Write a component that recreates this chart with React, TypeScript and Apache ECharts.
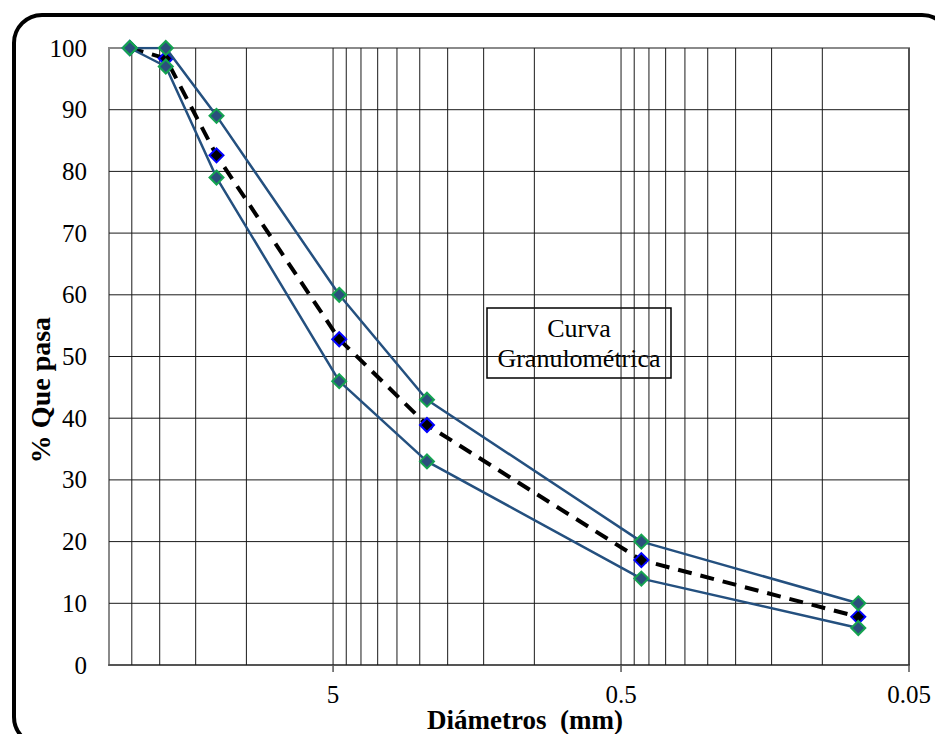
import React, { useEffect, useRef } from 'react';
import * as echarts from 'echarts';

// Sieve openings (mm) and percentages passing
const diameters = [25.4, 19.05, 12.7, 4.76, 2.36, 0.425, 0.075];
const upperLimit = [100, 100, 89, 60, 43, 20, 10];
const lowerLimit = [100, 97, 79, 46, 33, 14, 6];
const sampleCurve = [100, 98.3, 82.6, 52.8, 38.9, 17, 7.8];

// Axis definition
const axisMin = 0.05;
const axisMax = 30;
const majorTicks = [0.05, 0.5, 5];
const minorGrid = [
  0.1, 0.15, 0.2, 0.25, 0.3, 0.35, 0.4, 0.45,
  1, 1.5, 2, 2.5, 3, 3.5, 4, 4.5,
  10, 15, 20, 25,
];
const yTicks = [0, 10, 20, 30, 40, 50, 60, 70, 80, 90, 100];

const FONT = 'Liberation Serif';

const tx = (d: number) => Math.log10(d / axisMin);

export default function App() {
  const ref = useRef<HTMLDivElement>(null);

  useEffect(() => {
    document.body.style.margin = '0';
    if (!ref.current) return;
    const chart = echarts.init(ref.current, null, { renderer: 'svg' });

    const toPairs = (vals: number[]) => diameters.map((d, i) => [tx(d), vals[i]]);

    const gridXs = minorGrid.concat(majorTicks).map((d) => [tx(d)]);
    const gridYs = yTicks.filter((v) => v > 0 && v < 100).map((v) => [v]);

    const option: any = {
      animation: false,
      grid: {
        left: 109,
        top: 48,
        right: 26,
        bottom: 69,
        show: true,
        borderColor: '#8a8a8a',
        borderWidth: 2,
        backgroundColor: 'transparent',
      },
      xAxis: {
        type: 'value',
        min: 0,
        max: tx(axisMax),
        interval: 1,
        inverse: true,
        axisLine: { show: true, lineStyle: { color: '#555', width: 2 } },
        axisTick: { show: false },
        splitLine: { show: false },
        axisLabel: {
          margin: 17,
          fontFamily: FONT,
          fontSize: 25,
          color: '#000',
          formatter: (v: number) => {
            const m = majorTicks.find((t) => Math.abs(tx(t) - v) < 1e-6);
            return m !== undefined ? String(m) : '';
          },
        },
      },
      yAxis: {
        type: 'value',
        min: 0,
        max: 100,
        interval: 10,
        axisLine: { show: false },
        axisTick: { show: false },
        splitLine: { show: false },
        axisLabel: { margin: 22, fontFamily: FONT, fontSize: 25, color: '#000' },
      },
      series: [
        {
          type: 'custom',
          name: 'vgrid',
          z: 1,
          silent: true,
          data: gridXs,
          renderItem: (params: any, api: any) => {
            const x = api.value(0);
            const p0 = api.coord([x, 0]);
            const p1 = api.coord([x, 100]);
            return {
              type: 'line',
              shape: { x1: p0[0], y1: p0[1], x2: p1[0], y2: p1[1] },
              style: { stroke: '#1a1a1a', lineWidth: 1 },
            };
          },
        },
        {
          type: 'custom',
          name: 'hgrid',
          z: 1,
          silent: true,
          data: gridYs,
          renderItem: (params: any, api: any) => {
            const y = api.value(0);
            const p0 = api.coord([0, y]);
            const p1 = api.coord([tx(axisMax), y]);
            return {
              type: 'line',
              shape: { x1: p0[0], y1: p0[1], x2: p1[0], y2: p1[1] },
              style: { stroke: '#1a1a1a', lineWidth: 1 },
            };
          },
        },
        {
          type: 'custom',
          name: 'ticks',
          z: 3,
          silent: true,
          clip: false,
          data: majorTicks.map((d) => [tx(d)]),
          renderItem: (params: any, api: any) => {
            const x = api.value(0);
            const p0 = api.coord([x, 0]);
            return {
              type: 'line',
              shape: { x1: p0[0], y1: p0[1], x2: p0[0], y2: p0[1] + 7 },
              style: { stroke: '#555', lineWidth: 1.5 },
            };
          },
        },
        {
          type: 'line',
          name: 'Muestra',
          z: 4,
          data: toPairs(sampleCurve),
          symbol: 'diamond',
          symbolSize: 14,
          lineStyle: { color: '#000', width: 4, type: [14, 9] },
          itemStyle: { color: '#000', borderColor: '#0000ff', borderWidth: 2 },
        },
        {
          type: 'line',
          name: 'Límite superior',
          z: 5,
          data: toPairs(upperLimit),
          symbol: 'diamond',
          symbolSize: 14,
          lineStyle: { color: '#24507f', width: 2.5 },
          itemStyle: { color: '#2b4f7c', borderColor: '#14a350', borderWidth: 2 },
        },
        {
          type: 'line',
          name: 'Límite inferior',
          z: 5,
          data: toPairs(lowerLimit),
          symbol: 'diamond',
          symbolSize: 14,
          lineStyle: { color: '#24507f', width: 2.5 },
          itemStyle: { color: '#2b4f7c', borderColor: '#14a350', borderWidth: 2 },
        },
      ],
      graphic: [
        {
          type: 'rect',
          z: 100,
          silent: true,
          shape: { x: 14, y: 15, width: 936, height: 730, r: 28 },
          style: { fill: 'none', stroke: '#000', lineWidth: 4 },
        },
        {
          type: 'group',
          z: 100,
          children: [
            {
              type: 'rect',
              shape: { x: 487, y: 308, width: 184, height: 70 },
              style: { fill: '#fff', stroke: '#000', lineWidth: 1.5 },
            },
            {
              type: 'text',
              x: 579,
              y: 343,
              style: {
                text: 'Curva\nGranulométrica',
                fontFamily: FONT,
                fontSize: 26,
                lineHeight: 30,
                fill: '#000',
                textAlign: 'center',
                textVerticalAlign: 'middle',
              },
            },
          ],
        },
        {
          type: 'text',
          z: 100,
          x: 40,
          y: 390,
          rotation: Math.PI / 2,
          style: {
            text: '% Que pasa',
            fontFamily: FONT,
            fontSize: 28,
            fontWeight: 'bold',
            fill: '#000',
            textAlign: 'center',
            textVerticalAlign: 'middle',
          },
        },
        {
          type: 'text',
          z: 100,
          x: 525,
          y: 720,
          style: {
            text: 'Diámetros  (mm)',
            fontFamily: FONT,
            fontSize: 27,
            fontWeight: 'bold',
            fill: '#000',
            textAlign: 'center',
            textVerticalAlign: 'middle',
          },
        },
      ],
    };

    chart.setOption(option);
    return () => chart.dispose();
  }, []);

  return <div ref={ref} style={{ width: 935, height: 734 }} />;
}
